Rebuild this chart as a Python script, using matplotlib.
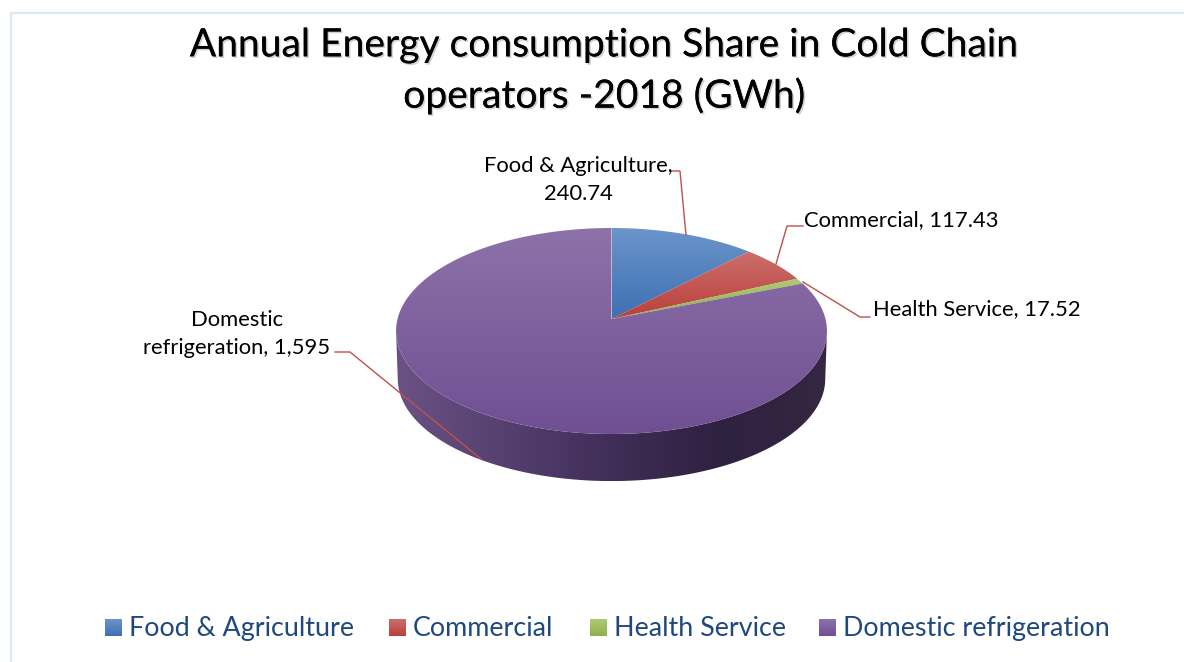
import numpy as np
import matplotlib
matplotlib.use("Agg")
import matplotlib.pyplot as plt
import matplotlib.patheffects as pe
from matplotlib.colors import LinearSegmentedColormap
from matplotlib.patches import Polygon

plt.rcParams['font.family'] = ['Lato', 'DejaVu Sans']

categories = ['Food & Agriculture', 'Commercial', 'Health Service', 'Domestic refrigeration']
values = [240.74, 117.43, 17.52, 1595]
value_labels = ['240.74', '117.43', '17.52', '1,595']
top_colors = ['#6b95cb', '#cc6f6b', '#aecb72', '#8d72a9']
bottom_colors = ['#3d70b2', '#ba3f3b', '#8fb04a', '#6f4f92']
side_colors = ['#6a5284', '#55406f', '#3f2e58', '#2f2140', '#352641']
title = 'Annual Energy consumption Share in Cold Chain\noperators -2018 (GWh)'

W, H = 1184, 662
line_red = '#c0504d'
text_blue = '#1f497d'
frame_blue = '#dce6f5'
apex = (611.5, 319)


def project(angle, dy=0.0, shrink=1.0):
    # circle seen in perspective, angle is clockwise from the back of the pie
    u, v = np.sin(angle), np.cos(angle)
    den = 1 + 0.1165 * v
    x = apex[0] + shrink * 214 * u / den
    y = apex[1] + dy - shrink * 101.6 * v / den
    return x, y


def gradient(ax, clip, colors, horizontal=False):
    xy = clip.get_xy()
    cmap = LinearSegmentedColormap.from_list('g', colors)
    g = np.linspace(0, 1, 256)
    g = g.reshape(1, -1) if horizontal else g.reshape(-1, 1)
    im = ax.imshow(g, cmap=cmap, aspect='auto', interpolation='bilinear', origin='upper',
                   extent=(xy[:, 0].min(), xy[:, 0].max(), xy[:, 1].max(), xy[:, 1].min()))
    ax.add_patch(clip)
    im.set_clip_path(clip)
    return im


fig = plt.figure(figsize=(W / 100, H / 100), dpi=100)
ax = fig.add_axes([0, 0, 1, 1])
ax.set_xlim(0, W)
ax.set_ylim(H, 0)
ax.axis('off')

# chart frame
ax.plot([10.5, 10.5, W], [H, 12.5, 12.5], color=frame_blue, lw=1.6)

# side of the pie, between the two points where the outline is widest
front = np.radians(np.linspace(96.7, 263.3, 200))
tx, ty = project(front)
bx, by = project(front, dy=48, shrink=0.992)
side = Polygon(np.r_[np.c_[tx, ty], np.c_[bx, by][::-1]], closed=True, fc='none', ec='none')
gradient(ax, side, side_colors, horizontal=True)

# top of the pie
shares = np.cumsum([0] + values) / sum(values) * 2 * np.pi
for i in range(len(values)):
    ang = np.linspace(shares[i], shares[i + 1], 150)
    ex, ey = project(ang)
    pts = np.r_[[apex], np.c_[ex, ey]]
    wedge = Polygon(pts, closed=True, fc='none', ec='none')
    gradient(ax, wedge, [top_colors[i], bottom_colors[i]])

ax.set_xlim(0, W)
ax.set_ylim(H, 0)

# leader lines
ax.plot([672, 680, 686], [171, 171, 235], color=line_red, lw=1.0)
ax.plot([803, 787, 776], [226, 226, 264], color=line_red, lw=1.0)
ax.plot([803, 860, 870], [282, 317, 317], color=line_red, lw=1.0)
ax.plot([335, 350, 481], [352, 352, 459], color=line_red, lw=1.0)

# data labels
lab = dict(color='black', fontsize=15.8, linespacing=1.5)
ax.text(578, 180, categories[0] + ',\n' + value_labels[0], ha='center', va='center', **lab)
ax.text(804, 220, categories[1] + ', ' + value_labels[1], ha='left', va='center', **lab)
ax.text(873, 309, categories[2] + ', ' + value_labels[2], ha='left', va='center', **lab)
ax.text(237, 334, 'Domestic\nrefrigeration, ' + value_labels[3], ha='center', va='center', **lab)

# title
ax.text(604, 71, title, ha='center', va='center', fontsize=28.1, color='black', linespacing=1.47,
        path_effects=[pe.withSimplePatchShadow(offset=(1.2, -1.2), shadow_rgbFace='#999999', alpha=0.45), pe.Normal()])

# legend
swatch_x = [105, 389, 590, 819]
for i, name in enumerate(categories):
    x0 = swatch_x[i]
    sw = Polygon([(x0, 619), (x0 + 17, 619), (x0 + 17, 636), (x0, 636)], closed=True, fc='none', ec='none')
    gradient(ax, sw, [top_colors[i], bottom_colors[i]])
    ax.text(x0 + 24, 628.5, name, ha='left', va='center', fontsize=19.4, color=text_blue)

ax.set_xlim(0, W)
ax.set_ylim(H, 0)
fig.savefig('out.png', dpi=100, facecolor='white')
